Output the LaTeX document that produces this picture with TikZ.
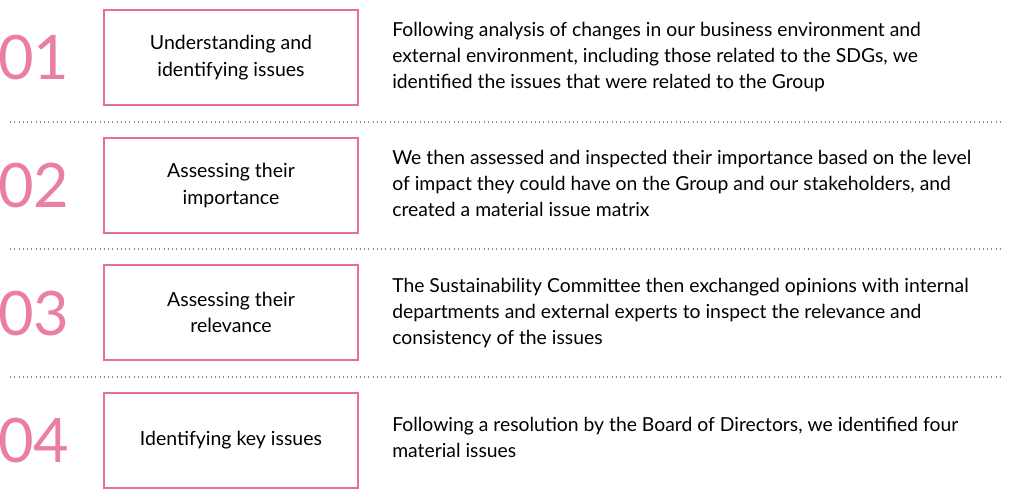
\documentclass[tikz,border=0pt]{standalone}
\usepackage{fontspec}
\setmainfont{Lato}
\definecolor{pinkn}{RGB}{234,128,160}
\definecolor{boxc}{RGB}{232,110,150}
\begin{document}
\begin{tikzpicture}[x=0.75pt,y=-0.75pt,
  stepbox/.style={draw=boxc,line width=0.8pt,minimum width=254*0.75pt,minimum height=95*0.75pt,align=center,font=\fontsize{14.6pt}{19.8pt}\selectfont,inner sep=0pt,text=black},
  num/.style={text=pinkn,font=\fontsize{46pt}{46pt}\selectfont,anchor=west,inner sep=0pt},
  desc/.style={anchor=north west,align=left,font=\fontsize{14.5pt}{19.5pt}\selectfont,inner sep=0pt,text=black},
  sep/.style={draw=black!45,line width=0.9pt,dash pattern=on 0.6pt off 2.6pt}]
\useasboundingbox (0,0) rectangle (1012,498);
\node[stepbox] (b1) at (231,57.5) {Understanding and\\identifying issues};
\node[stepbox] (b2) at (231,185.5) {Assessing their\\importance};
\node[stepbox] (b3) at (231,312.5) {Assessing their\\relevance};
\node[stepbox] (b4) at (231,440.5) {Identifying key issues};
\node[num] (n1) at (-2,58) {01};
\node[num] (n2) at (-2,186) {02};
\node[num] (n3) at (-2,314) {03};
\node[num] (n4) at (-2,441) {04};
\node[desc] (d1) at (392,22) {Following analysis of changes in our business environment and\\external environment, including those related to the SDGs, we\\identified the issues that were related to the Group};
\node[desc] (d2) at (392,150) {We then assessed and inspected their importance based on the level\\of impact they could have on the Group and our stakeholders, and\\created a material issue matrix};
\node[desc] (d3) at (392,278) {The Sustainability Committee then exchanged opinions with internal\\departments and external experts to inspect the relevance and\\consistency of the issues};
\node[desc] (d4) at (392,417) {Following a resolution by the Board of Directors, we identified four\\material issues};
\coordinate (s1a) at (10,122); \coordinate (s1b) at (1000,122);
\coordinate (s2a) at (10,249); \coordinate (s2b) at (1000,249);
\coordinate (s3a) at (10,377); \coordinate (s3b) at (1000,377);
\draw[sep] (s1a) -- (s1b);
\draw[sep] (s2a) -- (s2b);
\draw[sep] (s3a) -- (s3b);
\end{tikzpicture}
\end{document}
